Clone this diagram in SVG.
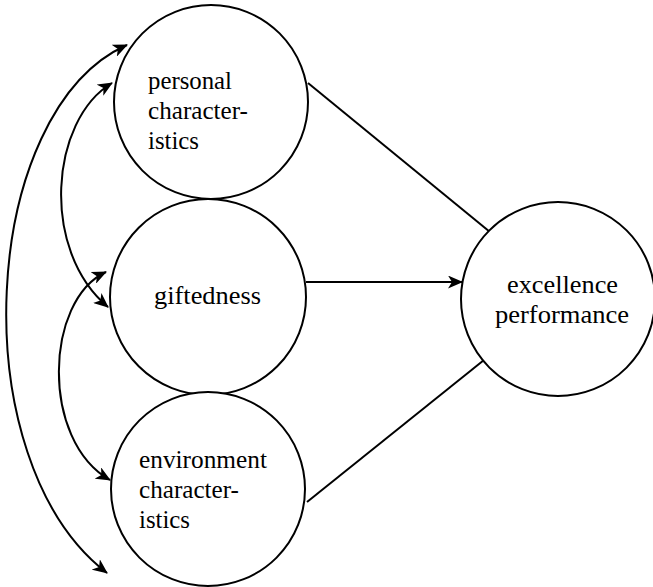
<svg xmlns="http://www.w3.org/2000/svg" width="653" height="587" viewBox="0 0 653 587">
<style>
.node circle{fill:#fff;stroke:#000;stroke-width:2}
.node text{font-family:"Liberation Serif",Tinos,"Nimbus Roman","Times New Roman",FreeSerif,"DejaVu Serif",serif;font-size:26px;fill:#000}
.conn path{fill:none;stroke:#000;stroke-width:2}
</style>
<defs>
<marker id="ah" viewBox="0 0 15 13" refX="14" refY="6.5" markerWidth="15" markerHeight="13" markerUnits="userSpaceOnUse" orient="auto-start-reverse">
<path d="M0,0 L15,6.5 L0,13 L4,6.5 Z" fill="#000"/>
</marker>
</defs>
<rect width="653" height="587" fill="#fff"/>
<g id="connectors" class="conn">
<path d="M308,83 L490,232"/>
<path d="M307,502 L484,360"/>
<path d="M306,282 L462,282" marker-end="url(#ah)"/>
<path d="M127,45 C-20,110 -40,460 107,573" marker-start="url(#ah)" marker-end="url(#ah)"/>
<path d="M112,83 C50,120 40,250 108,307" marker-start="url(#ah)" marker-end="url(#ah)"/>
<path d="M106,272 C45,300 40,440 110,480" marker-start="url(#ah)" marker-end="url(#ah)"/>
</g>
<g id="personal" class="node">
<circle cx="211" cy="102" r="97"/>
<text x="148" y="89" textLength="84" lengthAdjust="spacingAndGlyphs">personal</text>
<text x="148" y="119" textLength="100" lengthAdjust="spacingAndGlyphs">character-</text>
<text x="148" y="149" textLength="51" lengthAdjust="spacingAndGlyphs">istics</text>
</g>
<g id="giftedness" class="node">
<circle cx="208" cy="297" r="98"/>
<text x="154" y="304" textLength="107" lengthAdjust="spacingAndGlyphs">giftedness</text>
</g>
<g id="environment" class="node">
<circle cx="208" cy="489" r="97"/>
<text x="139" y="468" textLength="128" lengthAdjust="spacingAndGlyphs">environment</text>
<text x="139" y="498" textLength="100" lengthAdjust="spacingAndGlyphs">character-</text>
<text x="139" y="528" textLength="51" lengthAdjust="spacingAndGlyphs">istics</text>
</g>
<g id="excellence" class="node">
<circle cx="558" cy="299" r="97"/>
<text x="507" y="293" textLength="111" lengthAdjust="spacingAndGlyphs">excellence</text>
<text x="495" y="323" textLength="134" lengthAdjust="spacingAndGlyphs">performance</text>
</g>
</svg>
